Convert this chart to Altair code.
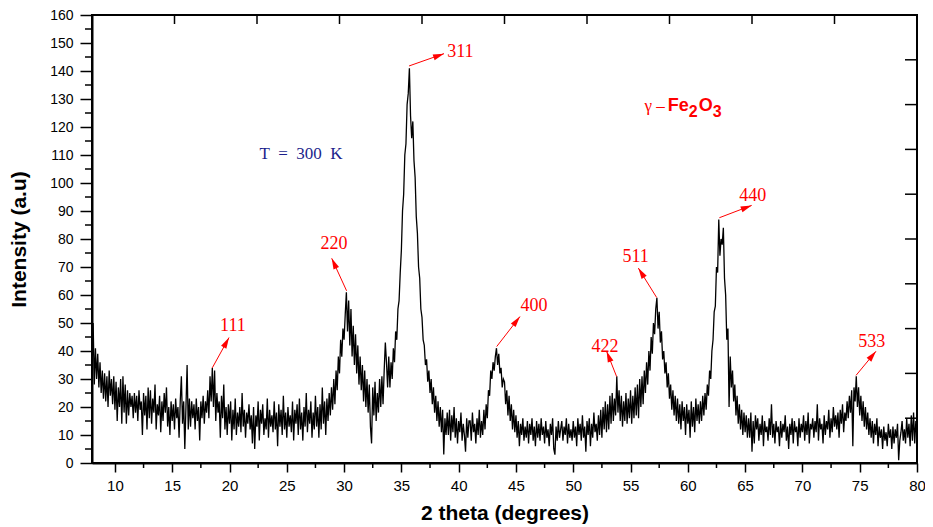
import math
import altair as alt
import pandas as pd

# ---------------- data (intensity sampled every 0.1 degree of 2-theta) -------------
STEP = 0.1
seg_08 = [32, 50, 28, 41, 30, 39, 27, 36, 25, 33,
          23, 32, 22, 31, 20, 33, 24, 30, 21, 31,
          19, 29, 15, 27, 20, 30, 14, 31, 18, 28,
          14, 26, 17, 25, 20, 24, 16, 25, 18, 24,
          15, 26, 19, 22, 10, 25, 17, 24, 12, 27,
          16, 26, 14, 23, 18, 28, 12, 21, 17, 24]
seg_14 = [11, 22, 15, 25, 18, 27, 13, 20, 10, 22,
          15, 21, 12, 23, 16, 20, 9, 22, 31, 14,
          22, 5, 20, 35, 12, 23, 13, 22, 16, 21,
          12, 23, 15, 20, 8, 22, 16, 24, 14, 22,
          18, 26, 16, 31, 22, 34, 20, 33, 15, 25,
          18, 22, 9, 24, 16, 28, 12, 20, 10, 21]
seg_20 = [14, 22, 8, 19, 12, 23, 10, 18, 13, 20,
          11, 25, 13, 19, 9, 18, 14, 21, 12, 17,
          7, 20, 5, 17, 13, 22, 8, 19, 14, 21,
          10, 16, 12, 23, 9, 19, 13, 17, 11, 22,
          12, 18, 6, 21, 13, 19, 10, 24, 12, 18,
          9, 20, 13, 17, 11, 22, 8, 19, 14, 21]
seg_26 = [10, 23, 12, 18, 8, 20, 13, 25, 11, 19,
          14, 22, 9, 18, 12, 24, 13, 20, 9, 21,
          12, 27, 14, 22, 10, 23, 15, 25, 17, 27,
          19, 30, 21, 33, 26, 38, 32, 44, 38, 48,
          44, 53, 61, 47, 58, 42, 55, 38, 49, 35,
          46, 32, 42, 28, 38, 26, 35, 22, 33, 20]
seg_32 = [30, 18, 28, 13, 7, 27, 17, 29, 15, 25,
          18, 30, 20, 31, 21, 33, 43, 36, 27, 38,
          27, 36, 30, 41, 36, 47, 44, 55, 58, 68,
          76, 90, 96, 110, 114, 128, 132, 141, 124, 116,
          122, 108, 102, 88, 82, 70, 66, 55, 52, 44,
          42, 35, 37, 29, 33, 25, 30, 21, 27, 18]
seg_38 = [24, 15, 22, 13, 20, 11, 19, 3, 16, 10,
          18, 10, 19, 8, 17, 11, 20, 9, 16, 7,
          15, 11, 18, 8, 14, 10, 4, 16, 9, 15,
          15, 8, 18, 11, 14, 7, 16, 10, 19, 9,
          15, 10, 19, 12, 21, 16, 26, 24, 33, 30,
          36, 33, 38, 41, 35, 39, 32, 34, 27, 30]
seg_44 = [29, 21, 26, 17, 24, 15, 21, 12, 19, 11,
          17, 9, 15, 6, 14, 10, 16, 8, 13, 9,
          15, 7, 14, 10, 16, 8, 13, 6, 15, 9,
          14, 8, 16, 10, 13, 7, 15, 9, 12, 6,
          14, 10, 16, 5, 3, 13, 8, 15, 9, 12,
          15, 8, 13, 10, 16, 7, 14, 9, 12, 8]
seg_50 = [15, 9, 13, 6, 16, 10, 14, 8, 17, 9,
          13, 4, 15, 10, 16, 6, 14, 9, 18, 11,
          14, 8, 17, 10, 19, 9, 20, 12, 22, 11,
          21, 12, 24, 14, 25, 15, 23, 17, 31, 18,
          26, 15, 24, 13, 22, 15, 25, 14, 23, 16,
          26, 14, 24, 16, 27, 17, 28, 16, 30, 20]
seg_56 = [31, 21, 33, 25, 36, 28, 40, 33, 45, 39,
          50, 46, 55, 59, 48, 54, 43, 47, 37, 40,
          32, 36, 27, 32, 23, 28, 19, 26, 17, 24,
          15, 23, 14, 21, 12, 22, 15, 20, 10, 21,
          14, 19, 9, 22, 13, 20, 11, 23, 15, 21,
          14, 22, 15, 24, 17, 25, 19, 28, 24, 33]
seg_62 = [30, 40, 44, 54, 56, 70, 68, 87, 74, 80,
          78, 84, 66, 60, 44, 48, 20, 38, 27, 33,
          22, 28, 17, 24, 14, 21, 12, 19, 10, 18,
          11, 17, 9, 16, 9, 18, 4, 15, 7, 17,
          12, 16, 8, 14, 10, 17, 6, 15, 11, 13,
          8, 16, 10, 21, 9, 14, 7, 15, 11, 13]
seg_68 = [6, 15, 9, 14, 11, 17, 8, 13, 5, 14,
          10, 16, 7, 15, 11, 13, 6, 16, 9, 14,
          11, 17, 8, 15, 10, 18, 7, 14, 12, 16,
          9, 15, 11, 21, 8, 16, 12, 14, 7, 17,
          10, 15, 12, 19, 9, 16, 11, 20, 13, 17,
          12, 18, 9, 19, 14, 21, 11, 18, 15, 22]
seg_74 = [16, 24, 18, 26, 6, 27, 22, 31, 20, 27,
          17, 24, 15, 22, 13, 20, 12, 18, 10, 16,
          9, 15, 7, 14, 10, 16, 6, 13, 9, 12,
          5, 13, 8, 11, 6, 14, 9, 12, 5, 13,
          7, 12, 9, 14, 1, 8, 11, 15, 8, 12,
          7, 16, 9, 14, 6, 17, 8, 18, 7, 15,
          9]

segments = [(8.0, seg_08), (14.0, seg_14), (20.0, seg_20), (26.0, seg_26),
            (32.0, seg_32), (38.0, seg_38), (44.0, seg_44), (50.0, seg_50),
            (56.0, seg_56), (62.0, seg_62), (68.0, seg_68), (74.0, seg_74)]

# ticks
x_major = [10, 15, 20, 25, 30, 35, 40, 45, 50, 55, 60, 65, 70, 75, 80]
x_minor = [12.5, 17.5, 22.5, 27.5, 32.5, 37.5, 42.5, 47.5, 52.5, 57.5, 62.5, 67.5, 72.5, 77.5]
y_major = [0, 10, 20, 30, 40, 50, 60, 70, 80, 90, 100, 110, 120, 130, 140, 150, 160]
y_minor = [5, 15, 25, 35, 45, 55, 65, 75, 85, 95, 105, 115, 125, 135, 145, 155]
top_ticks = [15.2, 22.4, 29.6, 36.8, 44.0, 51.2, 58.4, 65.6, 72.8]
right_ticks = [16, 32, 48, 64, 80, 96, 112, 128, 144]

# peak annotations (hkl)
hkl = ["111", "220", "311", "400", "422", "511", "440", "533"]
peak_x = [18.5, 30.22, 35.67, 43.32, 53.78, 57.28, 62.75, 74.68]
peak_y = [34.0, 61.5, 141.8, 41.6, 30.9, 59.1, 87.6, 31.3]
tip_x = [19.96, 28.92, 38.72, 45.35, 52.91, 55.68, 65.57, 76.42]
tip_y = [44.8, 73.1, 146.2, 52.3, 39.9, 69.6, 92.0, 39.9]
lab_x = [20.3, 29.12, 40.15, 46.57, 52.77, 55.45, 65.66, 76.05]
lab_y = [49.1, 78.1, 146.8, 56.2, 41.6, 73.4, 95.3, 43.1]

# ---------------- build tables -------------
W, H = 825, 448
XD, YD = [8, 80], [0, 160]
PX_X = W / (XD[1] - XD[0])
PX_Y = H / (YD[1] - YD[0])

rows = []
for start, vals in segments:
    for i, v in enumerate(vals):
        rows.append({"theta": round(start + i * STEP, 2), "intensity": v})
df = pd.DataFrame(rows)

ann = pd.DataFrame({
    "label": hkl, "theta": peak_x, "intensity": peak_y,
    "theta2": tip_x, "intensity2": tip_y, "lx": lab_x, "ly": lab_y,
})
ann["angle"] = [
    (math.degrees(math.atan2((tx - px) * PX_X, (ty - py) * PX_Y)) + 360) % 360
    for px, py, tx, ty in zip(peak_x, peak_y, tip_x, tip_y)
]

SANS = "Liberation Sans"
SERIF = "Liberation Serif"

xscale = alt.Scale(domain=XD, nice=False, zero=False)
yscale = alt.Scale(domain=YD, nice=False, zero=False)

xaxis = alt.Axis(values=x_major, title="2 theta (degrees)", grid=False, format="d",
                 tickSize=9, tickWidth=1.5, tickColor="black",
                 domainColor="black", domainWidth=2,
                 labelFont=SANS, labelFontSize=15, labelColor="black", labelPadding=6,
                 labelFlush=False, labelOverlap=False,
                 titleFont=SANS, titleFontSize=21, titleFontWeight="bold", titleColor="black",
                 titleX=W / 2, titleY=56, titleBaseline="alphabetic", titleAlign="center")
yaxis = alt.Axis(values=y_major, title="Intensity (a.u)", grid=False, format="d",
                 tickSize=12, tickWidth=1.5, tickColor="black",
                 domainColor="black", domainWidth=2,
                 labelFont=SANS, labelFontSize=14, labelColor="black", labelPadding=7,
                 labelOverlap=False,
                 titleFont=SANS, titleFontSize=21, titleFontWeight="bold", titleColor="black",
                 titleX=-73, titleY=H / 2, titleAngle=270, titleBaseline="middle",
                 titleAlign="center")

X = alt.X("theta:Q", scale=xscale, axis=xaxis)
Y = alt.Y("intensity:Q", scale=yscale, axis=yaxis)

line = alt.Chart(df).mark_line(color="black", strokeWidth=1.3).encode(x=X, y=Y)

# minor / mirror ticks
tick_style = dict(color="black", strokeWidth=1.5)
bottom_minor = alt.Chart(pd.DataFrame({"theta": x_minor})).mark_rule(**tick_style).encode(
    x=X, y=alt.value(H), y2=alt.value(H + 5))
left_minor = alt.Chart(pd.DataFrame({"intensity": y_minor})).mark_rule(**tick_style).encode(
    y=Y, x=alt.value(-7), x2=alt.value(0))
top_t = alt.Chart(pd.DataFrame({"theta": top_ticks})).mark_rule(**tick_style).encode(
    x=X, y=alt.value(0), y2=alt.value(9))
right_t = alt.Chart(pd.DataFrame({"intensity": right_ticks})).mark_rule(**tick_style).encode(
    y=Y, x=alt.value(W - 12), x2=alt.value(W))

# annotation arrows
arrow_line = alt.Chart(ann).mark_rule(color="red", strokeWidth=1).encode(
    x=X, y=Y, x2="theta2:Q", y2="intensity2:Q")
arrow_head = alt.Chart(ann).mark_point(
    shape="M0,0L0.55,2L-0.55,2Z", filled=True, size=121, color="red", opacity=1,
    strokeWidth=0).encode(
    x=alt.X("theta2:Q", scale=xscale, axis=xaxis),
    y=alt.Y("intensity2:Q", scale=yscale, axis=yaxis),
    angle=alt.Angle("angle:Q", scale=None))
arrow_text = alt.Chart(ann).mark_text(
    font=SERIF, fontSize=18, color="red", align="center", baseline="middle").encode(
    x=alt.X("lx:Q", scale=xscale, axis=xaxis),
    y=alt.Y("ly:Q", scale=yscale, axis=yaxis),
    text="label:N")

# text annotations
temp_df = pd.DataFrame({"theta": [26.24], "intensity": [110.2],
                        "t": ["T\u2002=\u2002300\u2002K"]})
temp_text = alt.Chart(temp_df).mark_text(
    font=SERIF, fontSize=17, color="#1c1f8c", align="center", baseline="middle").encode(
    x=X, y=Y, text="t:N")

phase_df = pd.DataFrame({"theta": [58.24], "intensity": [125.76]})
def phase_piece(txt, font, size, weight, dx, dy, align="left"):
    return alt.Chart(phase_df).mark_text(
        text=txt, font=font, fontSize=size, fontWeight=weight, color="#ff0000",
        align=align, baseline="alphabetic", dx=dx, dy=dy).encode(x=X, y=Y)

phase = (phase_piece("γ –", SERIF, 17, "normal", -3, 0, "right")
         + phase_piece("Fe", SANS, 18, "bold", 0, 0)
         + phase_piece("2", SANS, 16, "bold", 21, 6)
         + phase_piece("O", SANS, 18, "bold", 31, 0)
         + phase_piece("3", SANS, 16, "bold", 45, 6))

chart = alt.layer(
    line, bottom_minor, left_minor, top_t, right_t,
    arrow_line, arrow_head, arrow_text, temp_text, phase
).properties(
    width=W, height=H,
    autosize=alt.AutoSizeParams(type="none"),
    padding={"left": 84, "top": 7, "right": 8, "bottom": 62},
    background="white",
).configure_view(stroke="black", strokeWidth=2)

chart.save("out.html", embed_options={"renderer": "svg", "actions": False})
